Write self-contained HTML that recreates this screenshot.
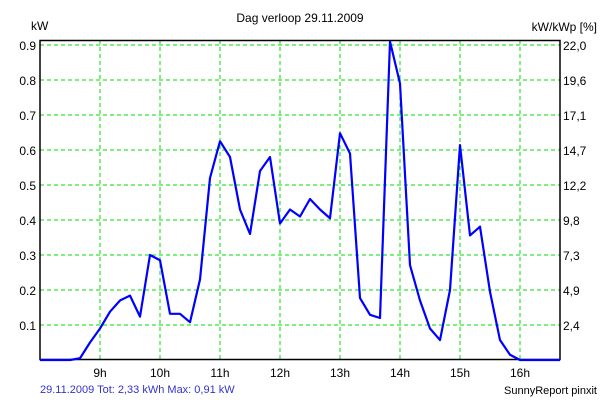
<!DOCTYPE html>
<html><head><meta charset="utf-8"><style>
body{margin:0;background:#fff;}
svg text{font-family:"Liberation Sans",Arial,sans-serif;font-size:12px;fill:#000;}
</style></head><body>
<svg width="600" height="400" xmlns="http://www.w3.org/2000/svg">
<text x="300" y="22" text-anchor="middle">Dag  verloop 29.11.2009</text>
<text x="31" y="30">kW</text>
<text x="597" y="31" text-anchor="end">kW/kWp [%]</text>
<g id="grid"></g>
<g id="ylab"></g>
<g id="rlab"></g>
<g id="xlab"></g>
<rect x="40" y="40.5" width="520" height="319" fill="none" stroke="#000" stroke-width="1.5"/>
<polyline id="line" fill="none" stroke="#0000ff" stroke-width="2.2" stroke-linejoin="round"/>
<text x="40" y="393" fill="#3333cc" style="fill:#3333cc;font-size:11px">29.11.2009 Tot: 2,33 kWh Max: 0,91 kW</text>
<text x="597" y="394" text-anchor="end" style="font-size:11px">SunnyReport pinxit</text>
</svg>
<script>
const yTicks=[0.1,0.2,0.3,0.4,0.5,0.6,0.7,0.8,0.9];
const rightLabels=["2,4","4,9","7,3","9,8","12,2","14,7","17,1","19,6","22,0"];
const hourTicks=[9,10,11,12,13,14,15,16];
const startHour=8;
const stepMinutes=10;
const power=[0,0,0,0,0.005,0.05,0.09,0.138,0.17,0.184,0.124,0.30,0.285,0.132,0.132,0.108,0.23,0.52,0.625,0.58,0.43,0.36,0.54,0.58,0.39,0.43,0.41,0.46,0.43,0.405,0.648,0.59,0.177,0.129,0.12,0.91,0.79,0.271,0.17,0.09,0.057,0.2,0.614,0.356,0.381,0.195,0.057,0.015,0,0,0,0,0];
const NS="http://www.w3.org/2000/svg";
function X(h){return 40+(h-startHour)*60;}
function Y(v){return 360-v*350;}
const grid=document.getElementById('grid'),yl=document.getElementById('ylab'),rl=document.getElementById('rlab'),xl=document.getElementById('xlab');
function mk(tag,attrs,parent){const e=document.createElementNS(NS,tag);for(const k in attrs)e.setAttribute(k,attrs[k]);parent.appendChild(e);return e;}
yTicks.forEach((v,i)=>{
 const g=mk('line',{x1:40,x2:560,y1:Y(v),y2:Y(v),stroke:'#00dd00','stroke-dasharray':'4,3'},grid);
 
 
 const t=mk('text',{x:36,y:Y(v)+5,'text-anchor':'end'},yl);t.textContent=v.toFixed(1);
 
 
 const r=mk('text',{x:563,y:Y(v)+5},rl);r.textContent=rightLabels[i];
 
 
});
hourTicks.forEach(h=>{
 const g=mk('line',{x1:X(h),x2:X(h),y1:40,y2:360,stroke:'#00dd00','stroke-dasharray':'4,3'},grid);
 
 
 const t=mk('text',{x:X(h),y:377,'text-anchor':'middle'},xl);t.textContent=h+'h';
 
 
});
document.getElementById('line').setAttribute('points',power.map((v,i)=>X(startHour+i*stepMinutes/60)+','+Y(v)).join(' '));
</script>
</body></html>
